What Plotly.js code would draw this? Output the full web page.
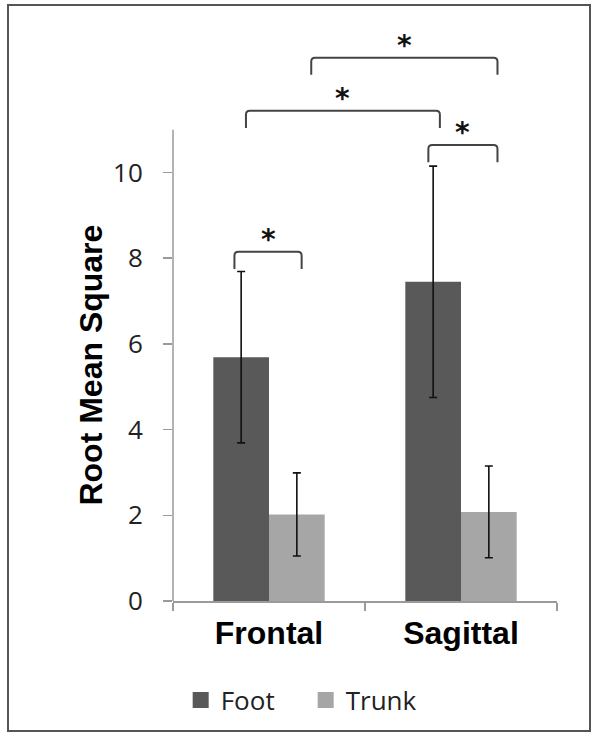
<!DOCTYPE html>
<html>
<head>
<meta charset="utf-8">
<script src="https://cdn.plot.ly/plotly-3.0.1.min.js"></script>
<style>
  html, body { margin: 0; padding: 0; background: #fff; }
  #wrap { position: relative; width: 602px; height: 742px; }
  #chart { position: absolute; left: 0; top: 0; width: 602px; height: 742px; }
  #frame { position: absolute; left: 7px; top: 4px; width: 584px; height: 728px;
           box-sizing: border-box; border: 2px solid #555; pointer-events: none; }
</style>
</head>
<body>
<div id="wrap">
  <div id="chart"></div>
  <div id="frame"></div>
</div>
<script>
// ---- data ----
const categories = ["Frontal", "Sagittal"];
const seriesNames = ["Foot", "Trunk"];
const footValues = [5.69, 7.45];
const footErrors = [2.0, 2.7];
const trunkValues = [2.02, 2.08];
const trunkErrors = [0.97, 1.07];
const yTickValues = [0, 2, 4, 6, 8, 10];
const yTitle = "Root Mean Square";
// significance brackets: [fromCategoryIndex, fromOffset, toCategoryIndex, toOffset, level]
const sigFrom = [0, 1, 0, 0];
const sigFromOffset = [-0.18, -0.17, -0.12, 0.22];
const sigTo = [0, 1, 1, 1];
const sigToOffset = [0.17, 0.19, -0.11, 0.19];
const sigLevel = [8.15, 10.64, 11.44, 12.68];
const sigLabel = ["*", "*", "*", "*"];

const colors = { Foot: "#595959", Trunk: "#a6a6a6" };
const axisGray = "#9a9a9a";

const traces = [
  {
    type: "bar", name: seriesNames[0], x: categories, y: footValues, showlegend: false,
    marker: { color: colors.Foot },
    error_y: { type: "data", array: footErrors, visible: true, color: "#111", thickness: 1.6, width: 4 }
  },
  {
    type: "bar", name: seriesNames[1], x: categories, y: trunkValues, showlegend: false,
    marker: { color: colors.Trunk },
    error_y: { type: "data", array: trunkErrors, visible: true, color: "#111", thickness: 1.6, width: 4 }
  },
  // legend entries with larger square swatches
  { type: "scatter", mode: "markers", name: seriesNames[0], x: [null], y: [null],
    marker: { symbol: "square", size: 16, color: colors.Foot } },
  { type: "scatter", mode: "markers", name: seriesNames[1], x: [null], y: [null],
    marker: { symbol: "square", size: 16, color: colors.Trunk } }
];

const shapes = [
  // y axis line (Excel-style axis ending at 11)
  { type: "line", xref: "paper", yref: "y", x0: 0, x1: 0, y0: 0, y1: 11,
    line: { color: axisGray, width: 1.5 } }
];
const annotations = [
  { text: yTitle, xref: "paper", yref: "y", x: -0.213, y: 5.5, textangle: -90,
    showarrow: false, xanchor: "center", yanchor: "middle",
    font: { family: "Liberation Sans, Arial", size: 32, color: "#000", weight: "bold" } }
];

const legH = 0.4;   // leg length (data units)
const r = 0.09, dx = 0.02;
for (let i = 0; i < sigLevel.length; i++) {
  const x1 = sigFrom[i] + sigFromOffset[i];
  const x2 = sigTo[i] + sigToOffset[i];
  const yt = sigLevel[i];
  const yl = yt - legH;
  const path = `M ${x1},${yl} L ${x1},${yt - r} Q ${x1},${yt} ${x1 + dx},${yt} ` +
               `L ${x2 - dx},${yt} Q ${x2},${yt} ${x2},${yt - r} L ${x2},${yl}`;
  shapes.push({ type: "path", xref: "x", yref: "y", path: path,
                line: { color: "#444", width: 2 } });
  annotations.push({ text: sigLabel[i], xref: "x", yref: "y", x: (x1 + x2) / 2, y: yt,
                     showarrow: false, xanchor: "center", yanchor: "bottom", yshift: -6,
                     font: { family: "DejaVu Sans", size: 28, color: "#111", weight: "bold" } });
}

const layout = {
  width: 602, height: 742,
  margin: { l: 173, r: 45, t: 44, b: 141 },
  paper_bgcolor: "#fff", plot_bgcolor: "#fff",
  barmode: "group", bargap: 0.42, bargroupgap: 0,
  showlegend: true,
  legend: {
    orientation: "h", x: 0.02, xanchor: "left", y: -0.178, yanchor: "middle",
    font: { family: "Open Sans", size: 26, color: "#222" }, entrywidth: 80,
    traceorder: "normal"
  },
  xaxis: {
    type: "category", range: [-0.5, 1.5], showline: true, linecolor: axisGray, linewidth: 1.5,
    tickson: "boundaries", ticks: "outside", ticklen: 8, tickcolor: axisGray, tickwidth: 1.5,
    showgrid: false, zeroline: false, ticklabelstandoff: 3,
    tickfont: { family: "Liberation Sans, Arial", size: 32, color: "#000", weight: "bold" }
  },
  yaxis: {
    range: [0, 13], showline: false, showgrid: false, zeroline: false,
    tickmode: "array", tickvals: yTickValues, ticktext: yTickValues.map(String),
    ticks: "outside", ticklen: 9, tickcolor: axisGray, tickwidth: 1.5, ticklabelstandoff: 15,
    tickfont: { family: "Open Sans", size: 26, color: "#222" }
  },
  shapes: shapes,
  annotations: annotations
};

Plotly.newPlot("chart", traces, layout, { displayModeBar: false, staticPlot: true });
</script>
</body>
</html>
